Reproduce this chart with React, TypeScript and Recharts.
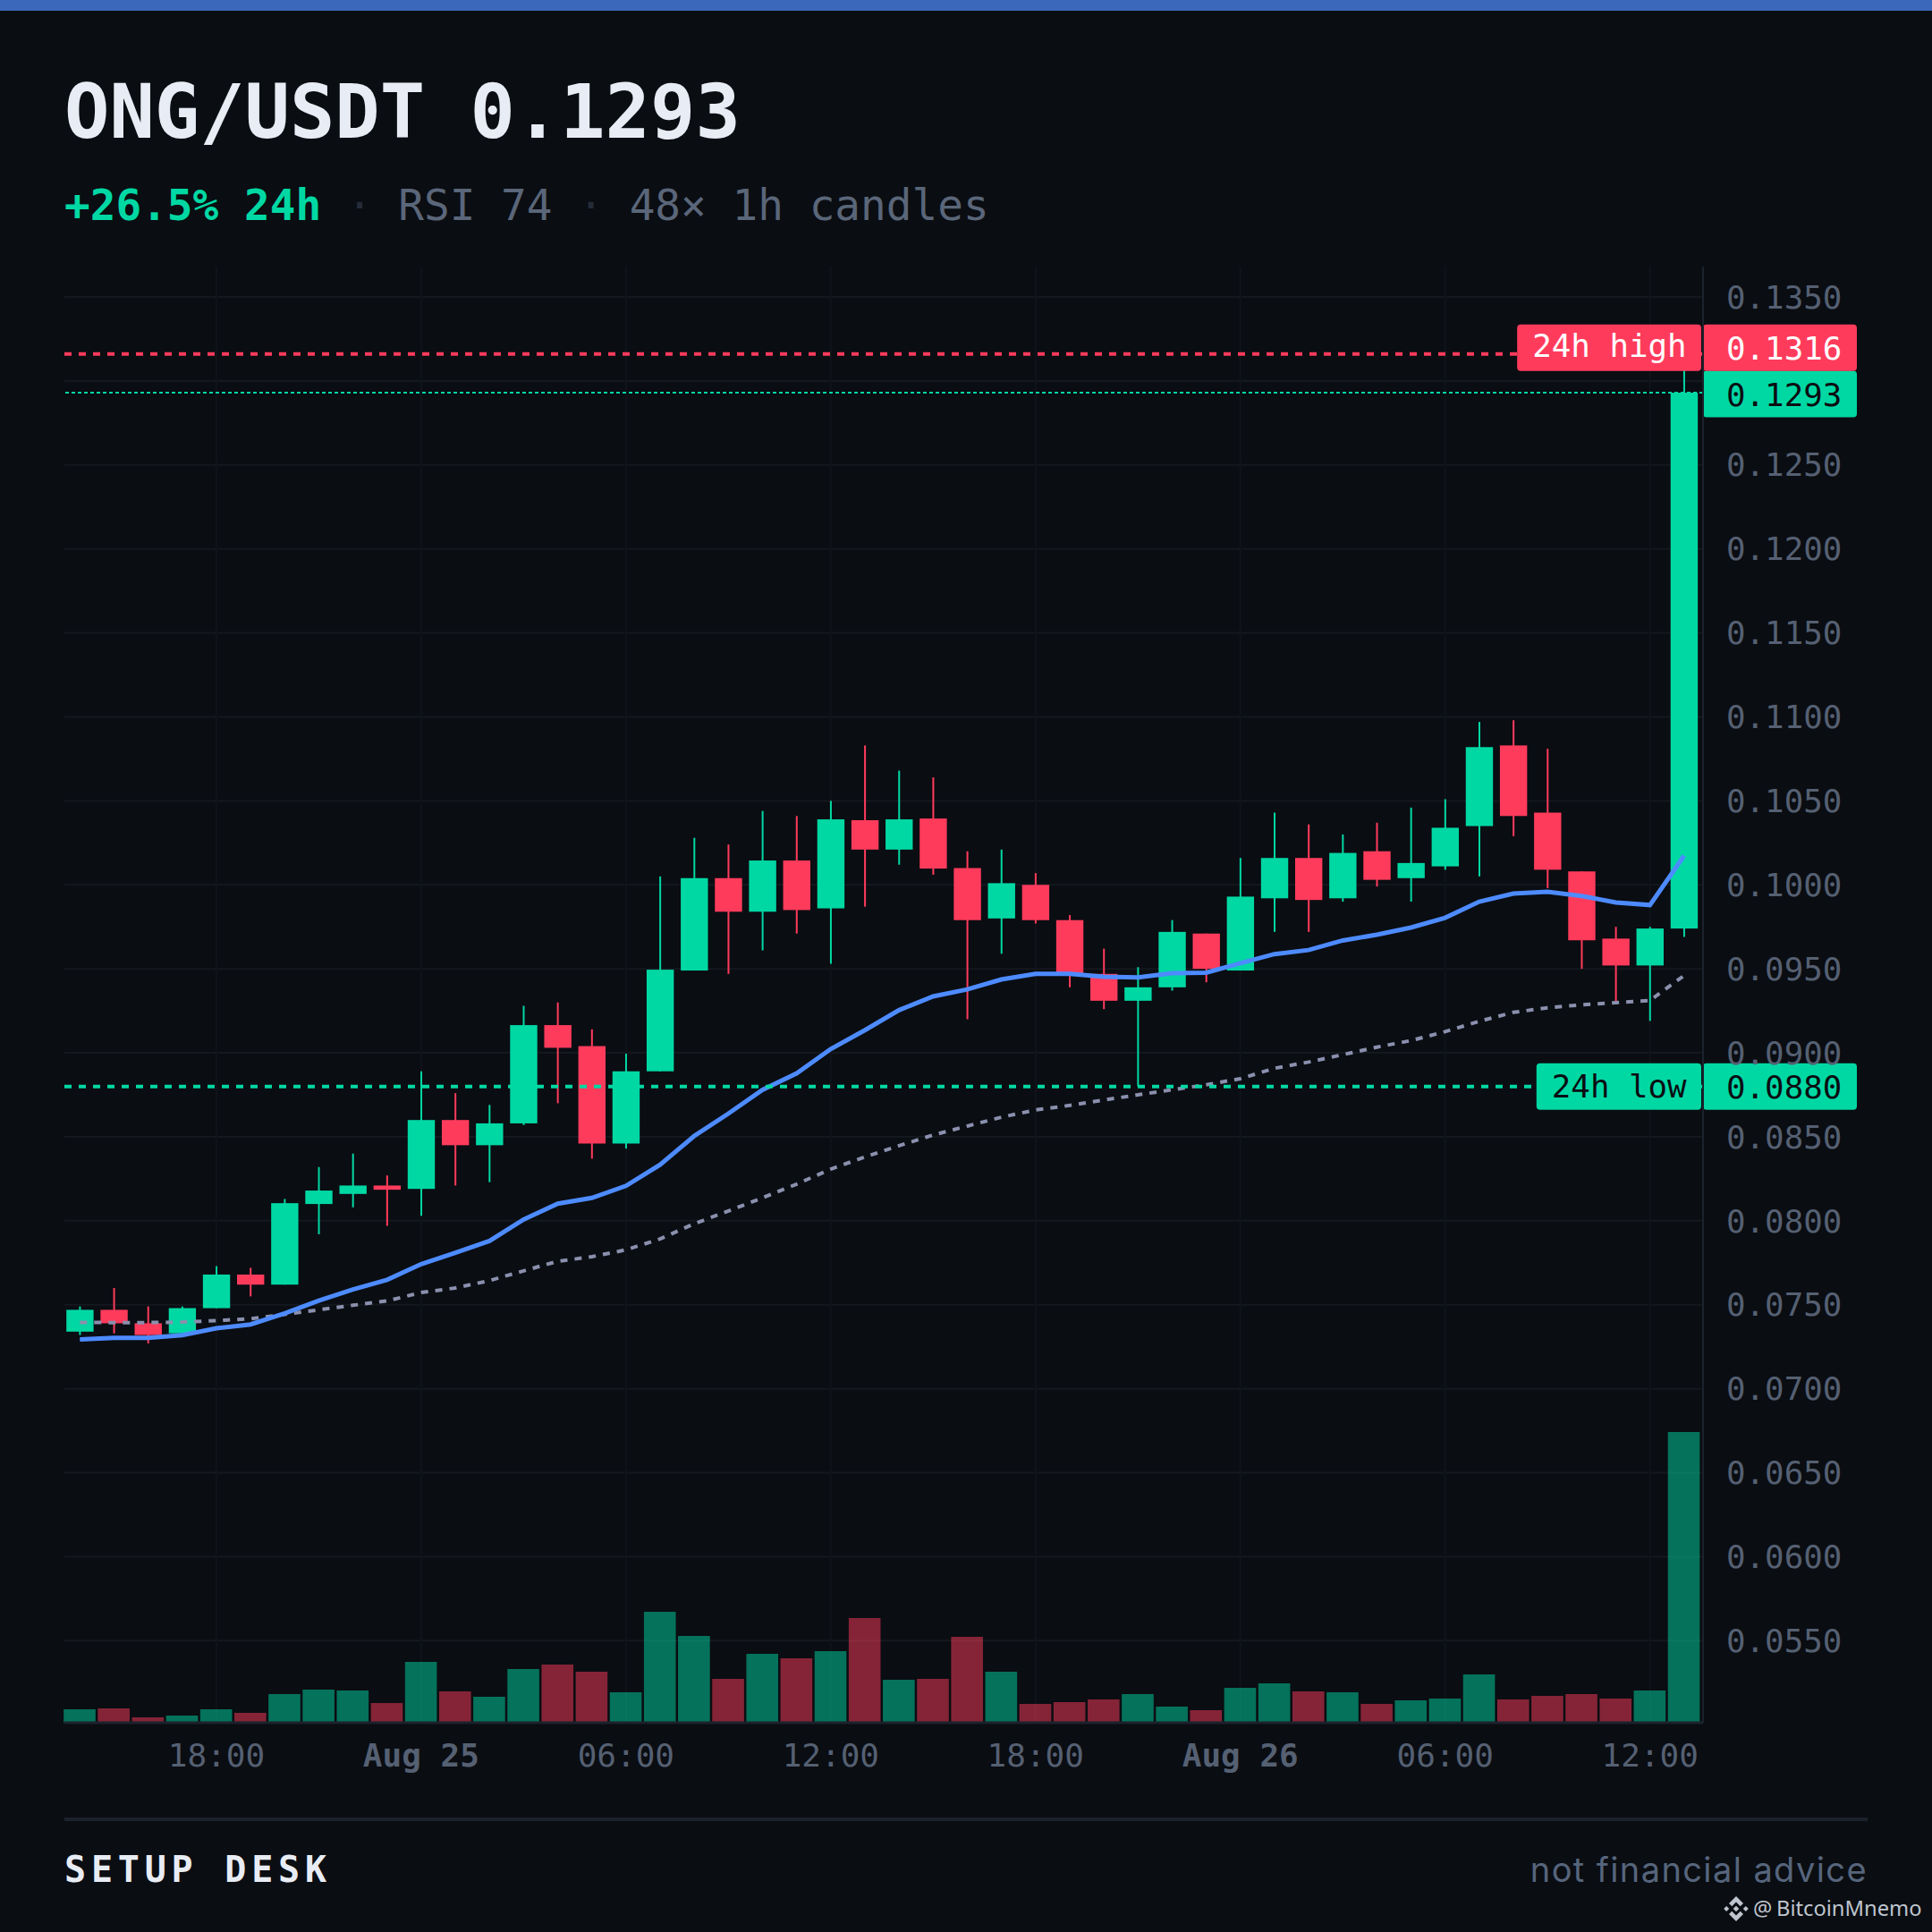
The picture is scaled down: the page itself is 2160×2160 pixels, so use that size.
import { Bar, CartesianGrid, ComposedChart, Line, ReferenceLine, XAxis, YAxis } from "recharts";

const C = {
  bg: "#0a0d12", text: "#e8ecf4", muted: "#556072", sub: "#5a6679", dot: "#252c38", green: "#00d8a4", red: "#ff3b5c",
  blue: "#4d8bff", slate: "#8a90ad", gridH: "#14181f", gridV: "#10141a", axis: "#1c222c", bar: "#3b68bb",
  water: "#bfc5ce", note: "#56657c",
} as const;
const MONO = "'DejaVu Sans Mono', monospace";

const opens = [
  0.0734, 0.0747, 0.0739, 0.0733, 0.0748, 0.0768, 0.0762, 0.081, 0.0816, 0.0821, 0.0819, 0.086,
  0.0845, 0.0858, 0.09165, 0.0904, 0.0846, 0.0889, 0.0949, 0.1004, 0.0984, 0.10145, 0.0986, 0.10385,
  0.1021, 0.10395, 0.101, 0.098, 0.1, 0.0979, 0.0947, 0.0931, 0.0939, 0.0971, 0.0949, 0.0992,
  0.1016, 0.0992, 0.102, 0.1004, 0.1011, 0.1035, 0.1083, 0.1043, 0.1008, 0.0968, 0.0952, 0.0974,
];
const closes = [
  0.0747, 0.0739, 0.0732, 0.0748, 0.0768, 0.0762, 0.08105, 0.0818, 0.0821, 0.08185, 0.086, 0.0845,
  0.0858, 0.09165, 0.0903, 0.0846, 0.0889, 0.09495, 0.1004, 0.0984, 0.10145, 0.0985, 0.1039, 0.1021,
  0.1039, 0.10097, 0.0979, 0.1001, 0.0979, 0.0947, 0.0931, 0.0939, 0.0972, 0.095, 0.0993, 0.1016,
  0.0991, 0.1019, 0.1003, 0.1013, 0.1034, 0.1082, 0.1041, 0.1009, 0.0967, 0.0952, 0.0974, 0.1293,
];
const highs = [
  0.0749, 0.076, 0.0749, 0.0749, 0.0773, 0.0772, 0.0813, 0.0832, 0.084, 0.0827, 0.0889, 0.0876,
  0.0869, 0.0928, 0.093, 0.0914, 0.08995, 0.1005, 0.1028, 0.1024, 0.1044, 0.1041, 0.105, 0.1083,
  0.1068, 0.1064, 0.102, 0.1021, 0.1007, 0.0982, 0.0962, 0.0951, 0.0979, 0.0971, 0.1016, 0.1043,
  0.1036, 0.103, 0.1037, 0.1046, 0.1051, 0.1097, 0.1098, 0.1081, 0.1008, 0.0975, 0.0975, 0.1316,
];
const lows = [
  0.0732, 0.0733, 0.0727, 0.0732, 0.0748, 0.0755, 0.0762, 0.0792, 0.0808, 0.0797, 0.0803, 0.0821,
  0.0823, 0.0857, 0.087, 0.0837, 0.0843, 0.0889, 0.0949, 0.0947, 0.0961, 0.0971, 0.0953, 0.0987,
  0.1012, 0.1006, 0.092, 0.0959, 0.0977, 0.0939, 0.0926, 0.088, 0.0937, 0.0942, 0.0949, 0.0972,
  0.0972, 0.099, 0.0999, 0.099, 0.1009, 0.1005, 0.1029, 0.0998, 0.095, 0.093, 0.0919, 0.0969,
];
const volumes = [
  15, 16, 6, 8, 15, 11, 32, 37, 36, 22, 68, 35, 29, 60, 65, 57, 34, 124, 97, 49, 77, 72, 80, 117,
  48, 49, 96, 57, 21, 23, 26, 32, 18, 14, 39, 44, 35, 34, 21, 25, 27, 54, 26, 30, 32, 27, 36, 325,
];
const ema20 = [
  0.07294, 0.07303, 0.07303, 0.07319, 0.0736, 0.07383, 0.07449, 0.07525, 0.07591, 0.07649, 0.07742, 0.07809,
  0.0788, 0.08008, 0.08102, 0.08136, 0.08208, 0.08334, 0.08505, 0.08638, 0.0878, 0.08878, 0.09023, 0.09135,
  0.09254, 0.09336, 0.09378, 0.09437, 0.0947, 0.0947, 0.09453, 0.09449, 0.09474, 0.09477, 0.09534, 0.09588,
  0.09612, 0.09669, 0.09703, 0.09746, 0.09804, 0.099, 0.09948, 0.09959, 0.09934, 0.09895, 0.0988, 0.10173,
];
const ema50 = [
  0.07395, 0.07394, 0.07394, 0.07397, 0.07406, 0.07417, 0.07443, 0.0747, 0.07497, 0.07523, 0.07573, 0.076,
  0.07644, 0.07702, 0.07759, 0.07786, 0.07827, 0.07892, 0.07983, 0.08058, 0.08137, 0.08218, 0.08308, 0.0838,
  0.08447, 0.08511, 0.08564, 0.08617, 0.0866, 0.08687, 0.08719, 0.0875, 0.0878, 0.0881, 0.08846, 0.08908,
  0.08945, 0.08989, 0.09034, 0.09073, 0.09126, 0.09188, 0.09241, 0.09268, 0.09286, 0.09298, 0.09312, 0.0946,
];

const priceTicks = [
  0.135, 0.13, 0.125, 0.12, 0.115, 0.11, 0.105, 0.1, 0.095, 0.09, 0.085, 0.08, 0.075, 0.07, 0.065, 0.06, 0.055,
];
const timeTicks = [4, 10, 16, 22, 28, 34, 40, 46];
const timeLabels = ["18:00", "Aug 25", "06:00", "12:00", "18:00", "Aug 26", "06:00", "12:00"];

const HIGH = 0.1316;
const LAST = 0.1293;
const LOW = 0.088;

const rows = opens.map((open, i) => ({
  i, open, close: closes[i], high: highs[i], low: lows[i], volume: volumes[i], ema20: ema20[i], ema50: ema50[i],
}));

function Candle({ x, y, width, height, payload }: any) {
  const { open, close, high, low } = payload;
  const color = close >= open ? C.green : C.red;
  const perUnit = height / (high - low);
  const bodyTop = y + (high - Math.max(open, close)) * perUnit;
  const bodyH = Math.abs(open - close) * perUnit;
  return (
    <g>
      <rect x={x + width / 2 - 1} y={y} width={2} height={height} fill={color} />
      <rect x={x} y={bodyTop} width={width} height={bodyH} fill={color} />
    </g>
  );
}

function VolumeBar({ x, y, width, height, payload }: any) {
  const color = payload.close >= payload.open ? C.green : C.red;
  return <rect x={x} y={y} width={width} height={height} fill={color} fillOpacity={0.5} />;
}

function TimeTick({ x, y, payload }: any) {
  const label = timeLabels[timeTicks.indexOf(payload.value)];
  return (
    <text x={x} y={y + 41} textAnchor="middle" fill={C.muted} fontSize={36} fontFamily={MONO} fontWeight={label.startsWith("Aug") ? 700 : 400}>
      {label}
    </text>
  );
}

function tag(price: number, fill: string, ink: string, nudge: number, name?: string, nameDy = 12) {
  return (props: any) => {
    const vb = props.viewBox;
    const right = vb.x + vb.width;
    const mid = vb.y + nudge;
    const tagW = name ? name.length * 21.6 + 33 : 0;
    return (
      <g fontFamily={MONO} fontSize={35.8}>
        {name && <rect x={right - 2 - tagW} y={mid - 26} width={tagW} height={52} rx={4} fill={fill} />}
        {name && <text x={right - 2 - tagW + 17} y={mid + nameDy} fill={ink}>{name}</text>}
        <rect x={right} y={mid - 26} width={172} height={52} rx={4} fill={fill} />
        <text x={right + 26} y={mid + 13} fill={ink}>{price.toFixed(4)}</text>
      </g>
    );
  };
}

function Watermark() {
  return (
    <g fill={C.water}>
      <g transform="translate(1941,2134)">
        <polygon points="0,-14 8,-6 4.7,-2.7 0,-7.4 -4.7,-2.7 -8,-6" />
        <polygon points="0,14 8,6 4.7,2.7 0,7.4 -4.7,2.7 -8,6" />
        <polygon points="0,-3.3 3.3,0 0,3.3 -3.3,0" />
        <polygon points="-10.8,-3 -7.8,0 -10.8,3 -13.8,0" />
        <polygon points="10.8,-3 13.8,0 10.8,3 7.8,0" />
      </g>
      <text x={1960} y={2142} fontFamily="'Noto Sans', sans-serif" fontSize={23.7}>@</text>
      <text x={1986} y={2142} fontFamily="'Noto Sans', sans-serif" fontSize={23.7}>BitcoinMnemo</text>
    </g>
  );
}

export default function App() {
  return (
    <div style={{ position: "absolute", left: 0, top: 0, width: 2160, height: 2160, background: C.bg, overflow: "hidden" }}>
      <ComposedChart
        width={2160}
        height={2160}
        data={rows}
        margin={{ top: 298, right: 0, bottom: 174, left: 72 }}
      >
        <CartesianGrid vertical={false} stroke={C.gridH} strokeWidth={2} syncWithTicks />
        <CartesianGrid horizontal={false} stroke={C.gridV} strokeWidth={2} syncWithTicks />
        <XAxis
          dataKey="i"
          type="number"
          domain={[-0.453, 47.555]}
          ticks={timeTicks}
          height={60}
          axisLine={{ stroke: C.axis, strokeWidth: 3 }}
          tickLine={false}
          interval={0}
          tick={TimeTick}
        />
        <XAxis xAxisId="vol" dataKey="i" type="number" domain={[-0.453, 47.555]} hide />
        <YAxis
          orientation="right"
          domain={[0.05012, 0.13681]}
          ticks={priceTicks}
          interval={0}
          width={256}
          // the 0.1300 label sits behind the price tags in the picture
          tickFormatter={(v: number) => (v === 0.13 ? "" : v.toFixed(4))}
          axisLine={{ stroke: C.axis, strokeWidth: 2 }}
          tickLine={false}
          tickSize={0}
          tickMargin={26}
          tick={{ fill: C.muted, fontSize: 35.8, fontFamily: MONO }}
        />
        <YAxis yAxisId="vol" domain={[0, 1628]} hide />

        <Bar xAxisId="vol" yAxisId="vol" dataKey="volume" barSize={35.6} shape={VolumeBar} isAnimationActive={false} />
        <Bar dataKey={(d: any) => [d.low, d.high]} barSize={30.4} shape={Candle} isAnimationActive={false} />
        <Line dataKey="ema50" stroke={C.slate} strokeWidth={4} strokeDasharray="8 8" dot={false} activeDot={false} isAnimationActive={false} />
        <Line dataKey="ema20" stroke={C.blue} strokeWidth={5} dot={false} activeDot={false} isAnimationActive={false} />

        <ReferenceLine y={LAST} stroke={C.green} strokeWidth={2} strokeDasharray="4 3" label={tag(LAST, C.green, C.bg, 1.5)} />
        <ReferenceLine y={HIGH} stroke={C.red} strokeWidth={4} strokeDasharray="8 8" label={tag(HIGH, C.red, "#ffffff", -7, "24h high", 10)} />
        <ReferenceLine y={LOW} stroke={C.green} strokeWidth={4} strokeDasharray="8 8" label={tag(LOW, C.green, C.bg, 0, "24h low", 12.5)} />
      </ComposedChart>

      <svg width={2160} height={2160} style={{ position: "absolute", left: 0, top: 0, pointerEvents: "none" }}>
        <rect x={0} y={0} width={2160} height={12} fill={C.bar} />
        <text x={72} y={154} fontFamily={MONO} fontSize={83.7} fontWeight={700} fill={C.text}>ONG/USDT 0.1293</text>
        <text x={72} y={246} fontFamily={MONO} fontSize={47.7} xmlSpace="preserve">
          <tspan fill={C.green} fontWeight={700}>+26.5% 24h</tspan>
          <tspan fill={C.dot}> · </tspan>
          <tspan fill={C.sub}>RSI 74</tspan>
          <tspan fill={C.dot}> · </tspan>
          <tspan fill={C.sub}>48× 1h candles</tspan>
        </text>
        <rect x={72} y={2032} width={2016} height={4} fill={C.axis} />
        <text x={72} y={2104} fontFamily={MONO} fontSize={40} fontWeight={700} letterSpacing={5.8} fill={C.text}>SETUP DESK</text>
        <text x={2088} y={2104} textAnchor="end" fontFamily="Inter, sans-serif" fontSize={38} letterSpacing={1.4} fill={C.note}>not financial advice</text>
        <Watermark />
      </svg>
    </div>
  );
}
